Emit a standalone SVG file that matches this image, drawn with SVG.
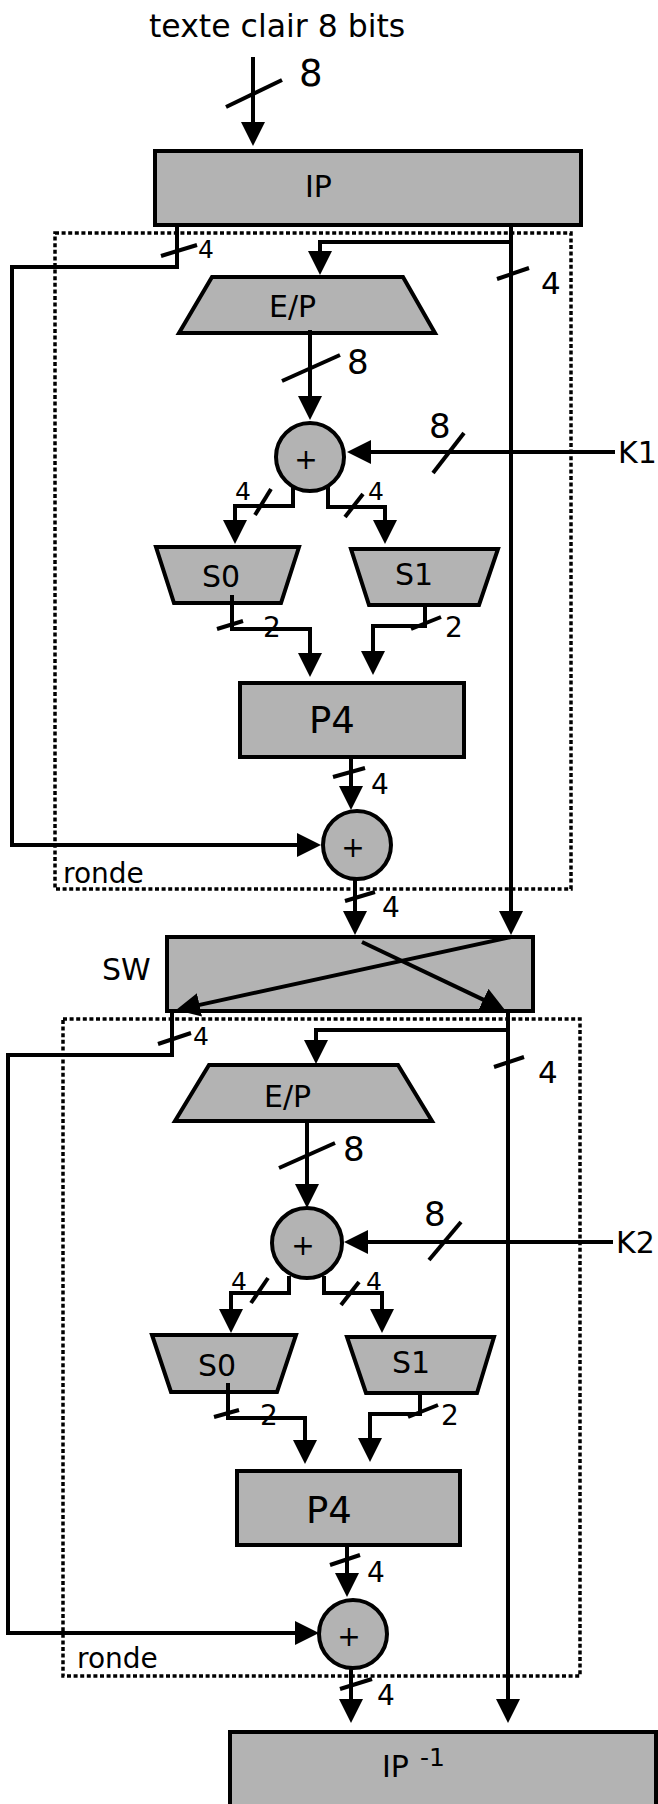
<svg xmlns="http://www.w3.org/2000/svg" width="658" height="1804" viewBox="0 0 658 1804">
<style>
.n{fill:#b3b3b3;stroke:#000;stroke-width:4}
.dot{fill:none;stroke:#000;stroke-width:3.5;stroke-dasharray:4 2.6}
.w{fill:none;stroke:#000;stroke-width:4}
.wa{fill:none;stroke:#000;stroke-width:4;marker-end:url(#ah)}
.s{stroke:#000;stroke-width:4}
text{font-family:"DejaVu Sans","Liberation Sans",sans-serif;fill:#000}
.t{font-size:30px}
.l{font-size:28px}
.ls{font-size:25px}
.lb{font-size:34px}
.p{font-size:28px;text-anchor:middle}
</style>
<defs>
<marker id="ah" markerUnits="userSpaceOnUse" markerWidth="26" markerHeight="24" refX="1" refY="12" orient="auto" viewBox="0 0 26 24"><path d="M0,0 L24,12 L0,24 z" fill="#000"/></marker>
</defs>

<text x="149" y="37" style="font-size:31.5px">texte clair 8 bits</text>

<g id="ronde1"><rect class="dot" x="55" y="233" width="516" height="656"/><text x="63" y="883" style="font-size:28px">ronde</text></g>
<g id="ronde2"><rect class="dot" x="63" y="1019" width="517" height="657"/><text x="77" y="1668" style="font-size:28px">ronde</text></g>

<g id="IP"><rect class="n" x="155" y="151" width="426" height="74"/><text class="t" x="305" y="197">IP</text></g>
<g id="EP1"><polygon class="n" points="212,277 403,277 435,333 179,333"/><text class="t" x="269" y="317">E/P</text></g>
<g id="XOR1"><circle class="n" cx="310" cy="457" r="34"/><text class="p" x="306" y="469">+</text></g>
<g id="S0a"><polygon class="n" points="156,547 299,547 281,603 174,603"/><text class="t" x="202" y="587">S0</text></g>
<g id="S1a"><polygon class="n" points="351,549 498,549 479,605 369,605"/><text class="t" x="395" y="585">S1</text></g>
<g id="P4a"><rect class="n" x="240" y="683" width="224" height="74"/><text x="309" y="733" style="font-size:37px">P4</text></g>
<g id="XOR2"><circle class="n" cx="357" cy="845" r="34"/><text class="p" x="353" y="857">+</text></g>
<g id="SW"><rect class="n" x="167" y="937" width="366" height="74"/><text class="t" x="102" y="980">SW</text></g>
<g id="EP2"><polygon class="n" points="209,1065 398,1065 432,1121 175,1121"/><text class="t" x="264" y="1107">E/P</text></g>
<g id="XOR3"><circle class="n" cx="307" cy="1243" r="35"/><text class="p" x="303" y="1255">+</text></g>
<g id="S0b"><polygon class="n" points="152,1335 296,1335 277,1392 171,1392"/><text class="t" x="198" y="1376">S0</text></g>
<g id="S1b"><polygon class="n" points="347,1337 494,1337 477,1393 366,1393"/><text class="t" x="392" y="1373">S1</text></g>
<g id="P4b"><rect class="n" x="237" y="1471" width="223" height="74"/><text x="306" y="1523" style="font-size:37px">P4</text></g>
<g id="XOR4"><circle class="n" cx="353" cy="1634" r="34"/><text class="p" x="349" y="1646">+</text></g>
<g id="IPinv"><rect class="n" x="230" y="1732" width="426" height="80"/><text class="t" x="382" y="1777">IP<tspan x="420" y="1766" style="font-size:25px">-1</tspan></text></g>

<g id="connectors">
<!-- input -->
<path class="wa" d="M253,57 V123"/>
<line class="s" x1="226" y1="107" x2="282" y2="80"/>
<text x="299" y="86" style="font-size:37px">8</text>
<!-- IP left wire -->
<path class="wa" d="M177,225 V267 H12 V845 H298"/>
<line class="s" x1="161" y1="256" x2="197" y2="245"/>
<text class="ls" x="198" y="258">4</text>
<!-- IP right wire -->
<path class="wa" d="M511,225 V912"/>
<path class="wa" d="M511,242 H320 V252"/>
<line class="s" x1="497" y1="279" x2="529" y2="268"/>
<text x="541" y="294" style="font-size:31px">4</text>
<!-- EP1 to XOR1 -->
<path class="wa" d="M310,330 V397"/>
<line class="s" x1="282" y1="381" x2="340" y2="355"/>
<text class="lb" x="347" y="374">8</text>
<!-- K1 -->
<path class="wa" d="M615,452 H370"/>
<line class="s" x1="433" y1="473" x2="464" y2="433"/>
<text x="429" y="438" style="font-size:34px">8</text>
<text x="618" y="463" style="font-size:30px">K1</text>
<!-- XOR1 outputs -->
<path class="wa" d="M293,487 V506 H235 V521"/>
<line class="s" x1="255" y1="515" x2="271" y2="489"/>
<text class="ls" x="235" y="500">4</text>
<path class="wa" d="M328,487 V507 H385 V521"/>
<line class="s" x1="345" y1="517" x2="363" y2="494"/>
<text class="ls" x="368" y="500">4</text>
<!-- S0/S1 outputs -->
<path class="wa" d="M232,595 V629 H310 V654"/>
<line class="s" x1="217" y1="629" x2="243" y2="621"/>
<text class="l" x="263" y="637">2</text>
<path class="wa" d="M425,605 V626 H373 V652"/>
<line class="s" x1="411" y1="629" x2="441" y2="617"/>
<text class="l" x="445" y="637">2</text>
<!-- P4 to XOR2 -->
<path class="wa" d="M351,757 V787"/>
<line class="s" x1="333" y1="777" x2="365" y2="768"/>
<text class="l" x="371" y="794">4</text>
<!-- XOR2 out -->
<path class="wa" d="M355,879 V912"/>
<line class="s" x1="345" y1="901" x2="375" y2="892"/>
<text class="l" x="382" y="917">4</text>
<!-- SW crossing -->
<path class="wa" d="M511,937 L198.5,1005.1"/>
<path class="wa" d="M362,942 L484.2,1000.1"/>
<!-- below SW left -->
<path class="wa" d="M172,1011 V1055 H8 V1633 H296"/>
<line class="s" x1="158" y1="1044" x2="191" y2="1033"/>
<text class="ls" x="193" y="1045">4</text>
<!-- below SW right -->
<path class="wa" d="M508,1011 V1700"/>
<path class="wa" d="M508,1030 H316 V1041"/>
<line class="s" x1="494" y1="1067" x2="524" y2="1057"/>
<text x="538" y="1083" style="font-size:31px">4</text>
<!-- EP2 to XOR3 -->
<path class="wa" d="M307,1121 V1185"/>
<line class="s" x1="279" y1="1168" x2="335" y2="1143"/>
<text class="lb" x="343" y="1161">8</text>
<!-- K2 -->
<path class="wa" d="M613,1242 H367"/>
<line class="s" x1="429" y1="1260" x2="461" y2="1222"/>
<text x="424" y="1226" style="font-size:34px">8</text>
<text x="616" y="1253" style="font-size:30px">K2</text>
<!-- XOR3 outputs -->
<path class="wa" d="M289,1276 V1293 H231 V1310"/>
<line class="s" x1="251" y1="1303" x2="268" y2="1278"/>
<text class="ls" x="231" y="1290">4</text>
<path class="wa" d="M324,1276 V1293 H382 V1310"/>
<line class="s" x1="341" y1="1305" x2="359" y2="1282"/>
<text class="ls" x="366" y="1290">4</text>
<!-- S0/S1 outputs 2 -->
<path class="wa" d="M228,1383 V1418 H305 V1441"/>
<line class="s" x1="214" y1="1417" x2="239" y2="1410"/>
<text class="l" x="260" y="1425">2</text>
<path class="wa" d="M420,1393 V1414 H370 V1439"/>
<line class="s" x1="408" y1="1417" x2="438" y2="1405"/>
<text class="l" x="441" y="1425">2</text>
<!-- P4b to XOR4 -->
<path class="wa" d="M347,1545 V1574"/>
<line class="s" x1="330" y1="1565" x2="360" y2="1555"/>
<text class="l" x="367" y="1582">4</text>
<!-- XOR4 out -->
<path class="wa" d="M351,1668 V1700"/>
<line class="s" x1="340" y1="1689" x2="372" y2="1679"/>
<text class="l" x="377" y="1705">4</text>
</g>
</svg>
